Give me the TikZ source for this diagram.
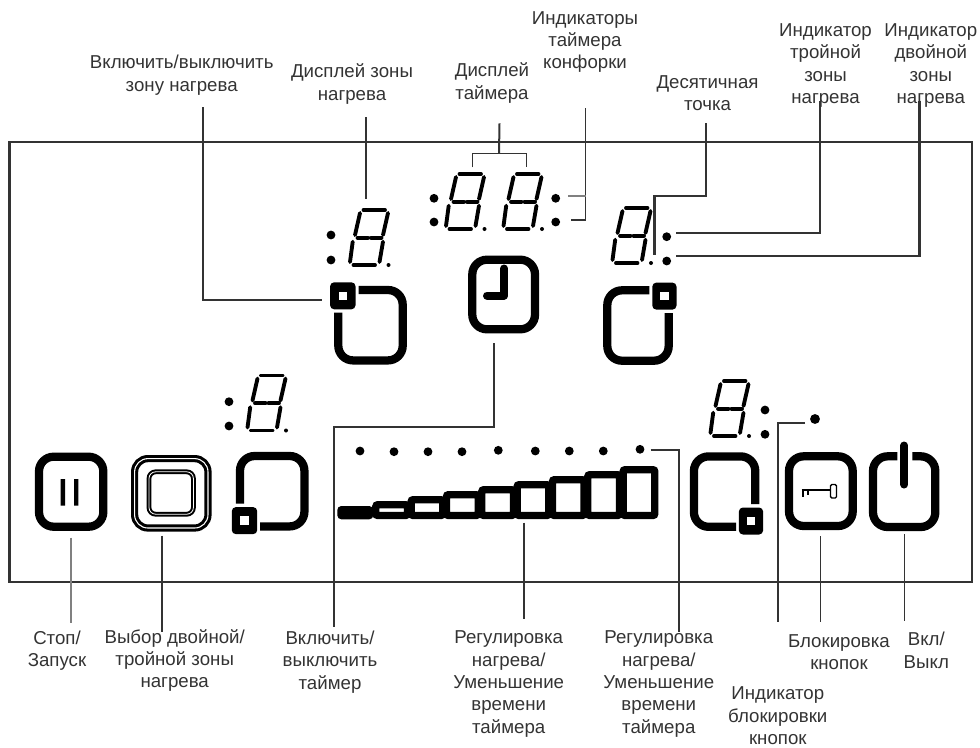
\documentclass[tikz,border=0pt]{standalone}
\usepackage{fontspec}
\setmainfont{Liberation Sans}
\definecolor{ink}{HTML}{333333}
\newcommand{\ledDigit}[2]{%
\begin{scope}[shift={(#1,#2)}]
\draw[seg] (13.5,-55) -- (35,-55) (7.5,-27.3) -- (18,-27.3) (21,-27.3) -- (31.5,-27.3) (3.5,0) -- (25,0);
\draw[seg] (10,-52) -- (5,-30) (2.7,-23.3) -- (0,-3) (38,-52) -- (33,-30) (33,-23.3) -- (29.5,-3);
\fill (38.5,0) circle (1.5pt);
\end{scope}}
\newcommand{\burnerKey}[4]{%
\begin{scope}[shift={(#1,#2)},xscale=#3,yscale=#4]
\draw[ring] (-12,-35.2) -- (32.2,-35.2) -- (32.2,35.2) -- (-32.2,35.2) -- (-32.2,-12.5);
\fill[rounded corners=3pt] (-40.4,-42.9) rectangle (-15,-15.9);
\fill[white] (-32,-33.7) rectangle (-23.4,-25.1);
\end{scope}}
\begin{document}
\begin{tikzpicture}[x=0.75pt,y=-0.75pt,
ring/.style={line width=6.2pt,rounded corners=11pt},
seg/.style={line width=2.9pt,line cap=round},
lamp/.style={circle,fill=black,inner sep=0pt,minimum size=6.6pt},
lead/.style={ink,line width=1.5pt},
leadthin/.style={ink,line width=0.8pt},
leadthick/.style={ink,line width=2.1pt},
lbl/.style={text=ink,align=center,font=\fontsize{14}{16.8}\selectfont}]
\useasboundingbox (0,0) rectangle (980,747);
\draw[ink,line width=1.6pt] (9.5,141.7) rectangle (972,581.7);
\node[lbl] (lblZone) at (181.7,75) {Включить/выключить\\зону нагрева};
\node[lbl] (lblShow) at (352,84) {Дисплей зоны\\нагрева};
\node[lbl] (lblTime) at (492,83) {Дисплей\\таймера};
\node[lbl] (lblTimeDots) at (585,42) {Индикаторы\\таймера\\конфорки};
\node[lbl] (lblPoint) at (707.5,93) {Десятичная\\точка};
\node[lbl] (lblTriple) at (825.5,65.5) {Индикатор\\тройной\\зоны\\нагрева};
\node[lbl] (lblDouble) at (930.8,65.5) {Индикатор\\двойной\\зоны\\нагрева};
\node[lbl] (lblStop) at (57,650.5) {Стоп/\\Запуск};
\node[lbl] (lblSelect) at (174.7,660.5) {Выбор двойной/\\тройной зоны\\нагрева};
\node[lbl] (lblTimer) at (330,662) {Включить/\\выключить\\таймер};
\node[lbl] (lblHeatA) at (508.7,684) {Регулировка\\нагрева/\\Уменьшение\\времени\\таймера};
\node[lbl] (lblHeatB) at (658.8,684) {Регулировка\\нагрева/\\Уменьшение\\времени\\таймера};
\node[lbl] (lblLockDot) at (777.8,716) {Индикатор\\блокировки\\кнопок};
\node[lbl] (lblLock) at (839,652) {Блокировка\\кнопок};
\node[lbl] (lblPower) at (926.3,650.5) {Вкл/\\Выкл};
\ledDigit{350}{265}
\ledDigit{446}{229}
\ledDigit{503.5}{229}
\ledDigit{612.5}{263}
\ledDigit{247.5}{430.5}
\ledDigit{710.5}{436}
\foreach \n/\x/\y in {a/331/235,b/331/260,c/434/198.3,d/434/222,e/555.7/198.3,f/555.7/222,g/666.7/236.7,h/666.7/261,i/229/401.7,j/229/426,k/765/410,l/765/434.3}
  \node[lamp] (dot\n) at (\x,\y) {};
\node[lamp,minimum size=7.4pt] (lockDot) at (815,419) {};
\foreach \i/\x/\y in {1/360/451,2/394/451.7,3/428/451.7,4/462/451.7,5/498.3/450.3,6/535.3/451,7/569.3/451,8/603.3/451,9/640/449.3}
  \node[lamp] (bar\i) at (\x,\y) {};
\burnerKey{370.5}{325.2}{1}{1}
\burnerKey{638}{325.5}{-0.953}{1}
\burnerKey{272.2}{491.2}{1}{-1}
\burnerKey{724.6}{491.6}{-0.953}{-1}
\draw[ring] (39,456.7) rectangle (103.3,526.7);
\fill[black] (60.7,479) rectangle (65,505.7) (74,479) rectangle (78.3,505.7);
\draw[line width=5.4pt,rounded corners=10pt] (134.6,458.6) rectangle (208,528);
\draw[white,line width=0.8pt,rounded corners=10pt] (134.6,458.6) rectangle (208,528);
\draw[line width=3.6pt,rounded corners=5pt] (149,471.8) rectangle (193.4,514.2);
\draw[white,line width=0.6pt,rounded corners=5pt] (149,471.8) rectangle (193.4,514.2);
\draw[ring] (472.3,259.7) rectangle (535,329.3);
\draw[line width=6pt,line cap=round,line join=round] (504.2,268.5) -- (504.2,295.5) -- (487,295.5);
\draw[ring] (789,456.3) rectangle (852.7,526);
\draw[line width=1.5pt] (801.7,490) -- (830,490) (803,490) -- (803,497) (808,490) -- (808,495);
\draw[line width=1pt,rounded corners=1pt] (830.5,484.5) rectangle (836.5,498);
\draw[ring] (912.3,456.3) -- (935.3,456.3) -- (935.3,527) -- (873,527) -- (873,456.3) -- (897.3,456.3);
\draw[line width=6pt,line cap=round] (904.3,445.5) -- (904.3,484.5);
\fill[rounded corners=3pt] (337.3,506) rectangle (373.3,519.3);
\foreach \i in {0,...,7}
  \draw[line width=5.5pt,rounded corners=1.5pt] (375.8+35.33*\i,504.7-5*\i) rectangle (407.5+35.33*\i,515.5);
\coordinate (zoneA) at (202.5,107.3);
\coordinate (zoneB) at (322.3,300);
\coordinate (showA) at (365.5,117.3);
\coordinate (showB) at (365.5,199);
\coordinate (timeA) at (499.5,123.3);
\coordinate (timeB) at (499,153.3);
\coordinate (timeC) at (472.7,167.3);
\coordinate (timeD) at (526.7,153.3);
\coordinate (timeE) at (526.7,167.3);
\coordinate (tdotA) at (585.5,108.3);
\coordinate (tdotB) at (570.7,220);
\coordinate (tdotC) at (585.5,196);
\coordinate (tdotD) at (568.3,196);
\coordinate (pointA) at (706,123);
\coordinate (pointB) at (654.3,196);
\coordinate (pointC) at (654.3,255);
\coordinate (tripleA) at (820,100.7);
\coordinate (tripleB) at (675.7,233.3);
\coordinate (doubleA) at (919.5,100.7);
\coordinate (doubleB) at (675.7,256);
\coordinate (stopA) at (71,537.7);
\coordinate (stopB) at (71,623.3);
\coordinate (selectA) at (162.3,535.7);
\coordinate (selectB) at (162.3,631.7);
\coordinate (timerA) at (494,343.3);
\coordinate (timerB) at (333.5,427);
\coordinate (timerC) at (333.5,626.7);
\coordinate (heatA) at (524.3,522.7);
\coordinate (heatB) at (524.3,619.3);
\coordinate (heatC) at (650.7,450);
\coordinate (heatD) at (679.2,631.7);
\coordinate (ldotA) at (805,422.7);
\coordinate (ldotB) at (777.8,622.3);
\coordinate (lockA) at (820.5,536);
\coordinate (lockB) at (820.5,622.3);
\coordinate (powerA) at (904.6,534.3);
\coordinate (powerB) at (904.6,621);
\draw[lead] (zoneA) |- (zoneB);
\draw[lead] (showA) -- (showB);
\draw[lead] (timeA) -- (timeB);
\draw[leadthin] (timeC) |- (timeD) -- (timeE);
\draw[leadthin] (tdotA) |- (tdotB);
\draw[leadthin,gray] (tdotC) -- (tdotD);
\draw[leadthick] (pointA) |- (pointB) -- (pointC);
\draw[lead] (tripleA) |- (tripleB);
\draw[leadthick] (doubleA) |- (doubleB);
\draw[lead,gray] (stopA) -- (stopB);
\draw[lead] (selectA) -- (selectB);
\draw[lead] (timerA) |- (timerB) -- (timerC);
\draw[lead] (heatA) -- (heatB);
\draw[lead] (heatC) -| (heatD);
\draw[lead] (ldotA) -| (ldotB);
\draw[leadthin] (lockA) -- (lockB);
\draw[leadthin] (powerA) -- (powerB);
\end{tikzpicture}
\end{document}
